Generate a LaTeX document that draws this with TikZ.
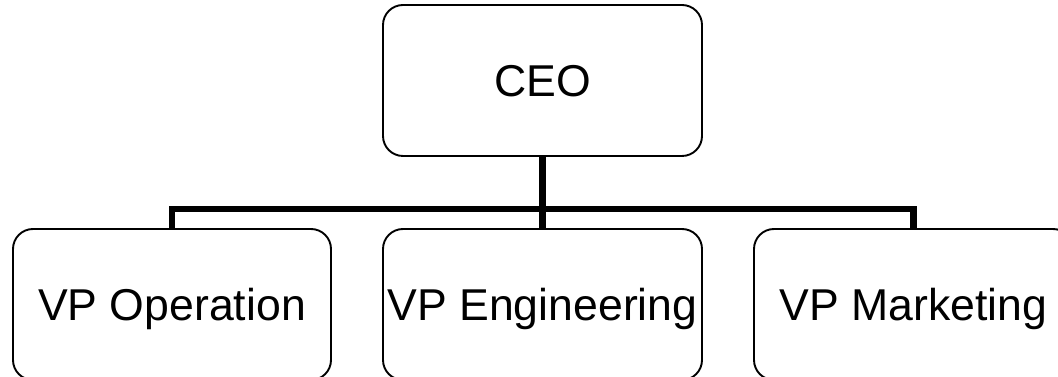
\documentclass[tikz,border=0pt]{standalone}
\usepackage{fontspec}
\setmainfont{Liberation Sans}
\begin{document}
\begin{tikzpicture}[x=1pt,y=1pt,
  orgbox/.style={draw=black, line width=1.9pt, rounded corners=20pt,
    inner sep=0pt, text height=32pt, text depth=0pt,
    font=\fontsize{44.6pt}{50pt}\selectfont},
  conn/.style={draw=black, line width=6.5pt, line join=miter, line cap=butt}]
  \useasboundingbox (0,0) rectangle (1058,377);
  % top of the chart
  \node[orgbox, minimum width=319pt, minimum height=151pt] (ceo) at (542.5,296.5) {CEO};
  % second level, running off the lower edge
  \node[orgbox, minimum width=318pt, minimum height=151pt] (op)  at (172,72.5)   {VP Operation};
  \node[orgbox, minimum width=319pt, minimum height=151pt] (eng) at (542.5,72.5) {VP Engineering};
  \node[orgbox, minimum width=319pt, minimum height=151pt] (mk)  at (913.5,72.5) {VP Marketing};
  % reporting lines
  \coordinate (hub) at (542.5,168);
  \draw[conn] (ceo.south) -- (hub);
  \draw[conn] (hub) -- (eng.north);
  \draw[conn] (op.north) |- (hub) -| (mk.north);
\end{tikzpicture}
\end{document}
